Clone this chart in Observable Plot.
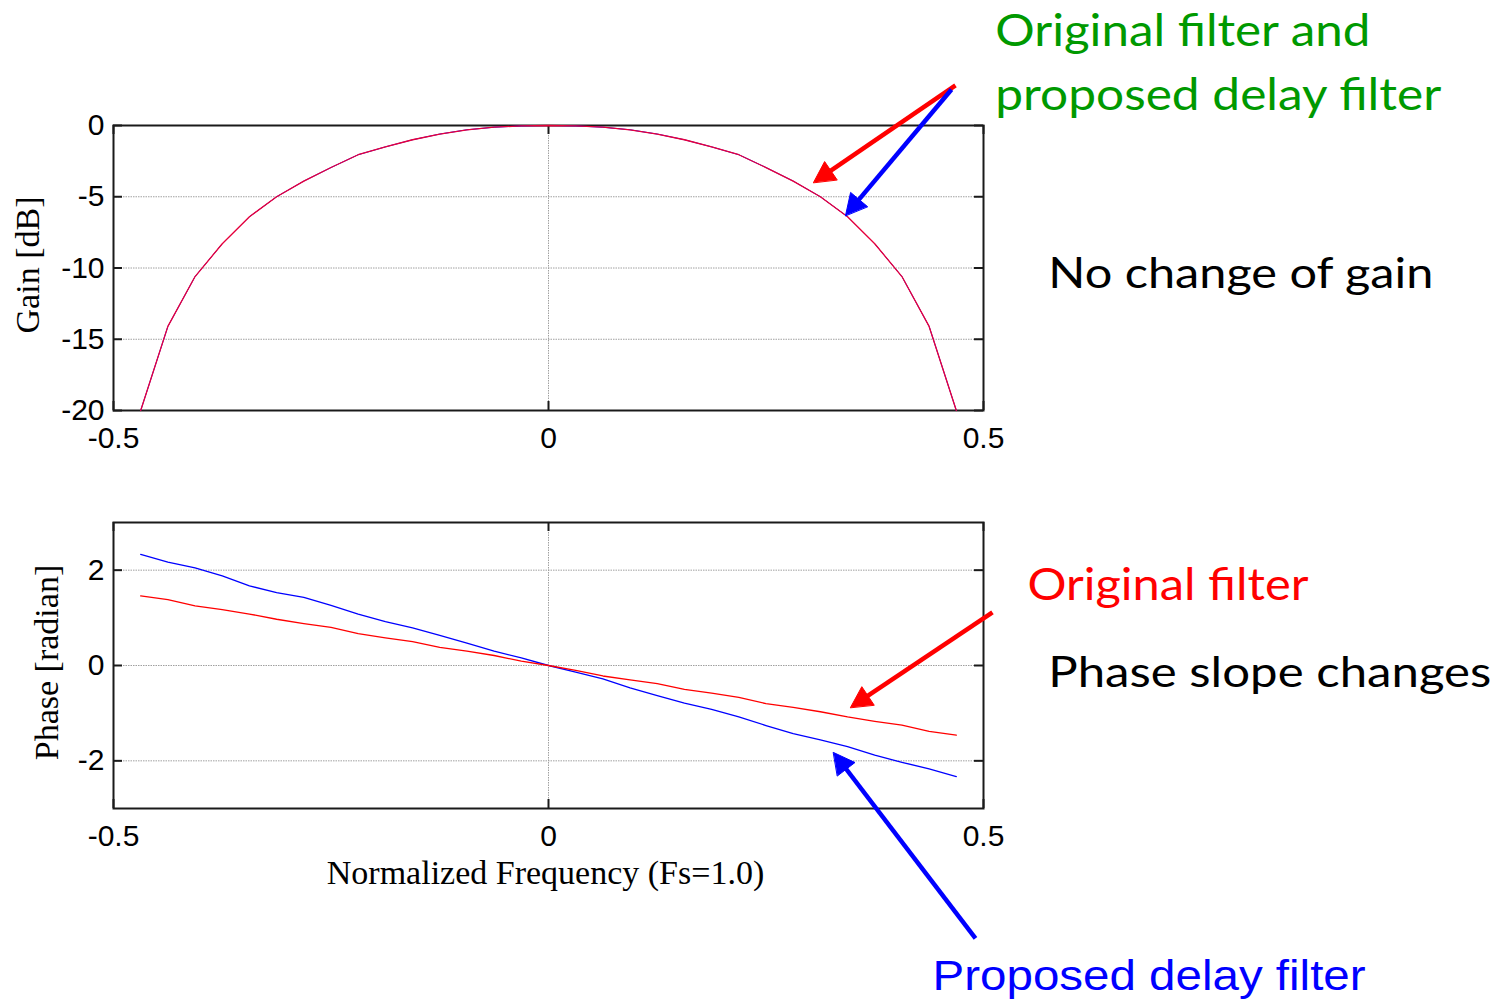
<!DOCTYPE html>
<html><head><meta charset="utf-8">
<script src="https://cdn.jsdelivr.net/npm/d3@7"></script>
<script src="https://cdn.jsdelivr.net/npm/@observablehq/plot@0.6"></script>
<style>
html,body{margin:0;padding:0;background:#fff;}
#wrap{position:relative;width:1509px;height:1004px;overflow:hidden;background:#fff;}
#wrap > svg{position:absolute;left:0;display:block;overflow:visible;}
</style></head><body><div id="wrap"></div>
<script>
// ---------- data ----------
const freq = [-0.46875,-0.4375,-0.40625,-0.375,-0.34375,-0.3125,-0.28125,-0.25,-0.21875,-0.1875,-0.15625,-0.125,-0.09375,-0.0625,-0.03125,0,
  0.03125,0.0625,0.09375,0.125,0.15625,0.1875,0.21875,0.25,0.28125,0.3125,0.34375,0.375,0.40625,0.4375,0.46875];
const gainOriginal = [-20.0,-14.1,-10.6,-8.3,-6.4,-5.0,-3.9,-2.95,-2.05,-1.5,-1.0,-0.6,-0.3,-0.12,-0.03,0,
  -0.03,-0.12,-0.3,-0.6,-1.0,-1.5,-2.05,-2.95,-3.9,-5.0,-6.4,-8.3,-10.6,-14.1,-20.0];
const gainProposed = [-20.0,-14.1,-10.6,-8.3,-6.4,-5.0,-3.9,-2.95,-2.05,-1.5,-1.0,-0.6,-0.3,-0.12,-0.03,0,
  -0.03,-0.12,-0.3,-0.6,-1.0,-1.5,-2.05,-2.95,-3.9,-5.0,-6.4,-8.3,-10.6,-14.1,-20.0];
const phaseOriginal = [1.46,1.38,1.25,1.17,1.08,0.97,0.88,0.80,0.67,0.58,0.50,0.38,0.30,0.21,0.09,0,
  -0.10,-0.22,-0.30,-0.38,-0.50,-0.58,-0.67,-0.80,-0.88,-0.97,-1.08,-1.17,-1.25,-1.38,-1.46];
const phaseProposed = [2.33,2.17,2.05,1.88,1.67,1.53,1.43,1.26,1.08,0.92,0.79,0.63,0.47,0.30,0.16,0,
  -0.14,-0.28,-0.47,-0.63,-0.79,-0.92,-1.08,-1.26,-1.43,-1.56,-1.70,-1.88,-2.03,-2.17,-2.33];
const xTicks = [-0.5, 0, 0.5];
const gainTicks = [-20, -15, -10, -5, 0];
const phaseTicks = [-2, 0, 2];

// annotations (data coordinates of each panel)
const topArrows = [
  {x1: 0.4678, y1: 2.81, x2: 0.3046, y2: -4.0, color: "#ff0000"},
  {x1: 0.4632, y1: 2.53, x2: 0.3414, y2: -6.32, color: "#0000ff"}
];
const bottomArrows = [
  {x1: 0.5103, y1: 1.112, x2: 0.3471, y2: -0.881, color: "#ff0000"},
  {x1: 0.4908, y1: -5.727, x2: 0.3276, y2: -1.825, color: "#0000ff"}
];
const topNotes = [
  {x: 0.5135, y: 5.61, text: "Original filter and", color: "#009900", font: "Lato", size: 45, len: 375},
  {x: 0.5135, y: 1.12, text: "proposed delay filter", color: "#009900", font: "Lato", size: 45, len: 446},
  {x: 0.5745, y: -11.37, text: "No change of gain", color: "#000000", font: "Lato", size: 43, len: 385}
];
const bottomNotes = [
  {x: 0.5505, y: 1.364, text: "Original filter", color: "#ff0000", font: "Lato", size: 45, len: 281},
  {x: 0.5745, y: -0.46, text: "Phase slope changes", color: "#000000", font: "Lato", size: 43, len: 443},
  {x: 0.4415, y: -6.818, text: "Proposed delay filter", color: "#0000ff", font: "Liberation Sans", size: 42, len: 433}
];

// ---------- layout ----------
const W = 1509, mL = 113, mR = 526;
const TOP = {top: 0, height: 470, mt: 125, mb: 60};
const BOT = {top: 470, height: 534, mt: 52, mb: 196};
const tickFmt = d => String(d);
const gridStyle = {stroke: "#a0a0a0", strokeOpacity: 1, strokeDasharray: "1.5,1", strokeWidth: 1};

function arrowMarks(arrows, sx, sy) {
  const marks = [];
  arrows.forEach(a => {
    const px1 = sx(a.x1), py1 = sy(a.y1), px2 = sx(a.x2), py2 = sy(a.y2);
    const dx = px2 - px1, dy = py2 - py1, len = Math.hypot(dx, dy);
    const ux = dx / len, uy = dy / len;
    const L = 21, H = 11;
    const bx = px2 - ux * L, by = py2 - uy * L;
    const head = [[px2, py2], [bx - uy * H, by + ux * H], [bx + uy * H, by - ux * H]]
      .map(([px, py]) => ({x: sx.invert(px), y: sy.invert(py)}));
    const shaft = [{x1: a.x1, y1: a.y1, x2: sx.invert(px2 - ux * L * 0.6), y2: sy.invert(py2 - uy * L * 0.6)}];
    marks.push(Plot.link(shaft, {x1: "x1", y1: "y1", x2: "x2", y2: "y2", stroke: a.color, strokeWidth: 4.5, strokeLinecap: "butt"}));
    marks.push(Plot.line(head, {x: "x", y: "y", fill: a.color, stroke: a.color, strokeWidth: 1, curve: "linear-closed"}));
  });
  return marks;
}

function noteMarks(notes) {
  return notes.map(n => Plot.text([n], {x: "x", y: "y", text: "text", textAnchor: "start", lineAnchor: "bottom",
    fill: n.color, fontFamily: n.font, fontSize: n.size}));
}

function panel(cfg, yDomain, yTicks, series, arrows, notes, yLabel, yLabelDx, xLabel) {
  const innerH = cfg.height - cfg.mt - cfg.mb;
  const sx = d3.scaleLinear([-0.5, 0.5], [mL, W - mR]);
  const sy = d3.scaleLinear(yDomain, [cfg.mt + innerH, cfg.mt]);
  const tkX = sx.invert(mL + 9) - sx.invert(mL);
  const tkY = sy.invert(cfg.mt) - sy.invert(cfg.mt + 9);
  const rows = freq.map((f, i) => ({f, a: series[0][i], b: series[1][i]}));
  const marks = [
    Plot.gridY(yTicks, gridStyle),
    Plot.gridX([0], gridStyle),
    Plot.ruleY(yTicks, {x1: -0.5, x2: -0.5 + tkX, stroke: "#1a1a1a", strokeWidth: 2}),
    Plot.ruleY(yTicks, {x1: 0.5 - tkX, x2: 0.5, stroke: "#1a1a1a", strokeWidth: 2}),
    Plot.ruleX(xTicks, {y1: yDomain[0], y2: yDomain[0] + tkY, stroke: "#1a1a1a", strokeWidth: 2}),
    Plot.ruleX(xTicks, {y1: yDomain[1] - tkY, y2: yDomain[1], stroke: "#1a1a1a", strokeWidth: 2}),
    Plot.frame({stroke: "#1a1a1a", strokeWidth: 2}),
    Plot.line(rows, {x: "f", y: "b", stroke: "#0000ff", strokeWidth: series.overlap ? 1 : 1.3}),
    Plot.line(rows, {x: "f", y: "a", stroke: series.overlap ? "#e8003a" : "#ff0000", strokeWidth: 1.3}),
    Plot.axisX(xTicks, {tickSize: 0, tickPadding: 16, tickFormat: tickFmt, fontSize: 30, label: null}),
    Plot.axisY(yTicks, {tickSize: 0, tickPadding: 9, tickFormat: tickFmt, fontSize: 30, label: null}),
    Plot.text([yLabel], {frameAnchor: "left", textAnchor: "middle", lineAnchor: "middle", rotate: -90, dx: yLabelDx, dy: -3,
      fontFamily: "'Liberation Serif', serif", fontSize: 34, fill: "black"}),
    ...arrowMarks(arrows, sx, sy),
    ...noteMarks(notes)
  ];
  if (xLabel) marks.push(Plot.text([xLabel], {frameAnchor: "bottom", textAnchor: "middle", dx: -3, dy: 65, lineAnchor: "middle",
    fontFamily: "'Liberation Serif', serif", fontSize: 34, fill: "black"}));
  const svg = Plot.plot({
    width: W, height: cfg.height,
    marginLeft: mL, marginRight: mR, marginTop: cfg.mt, marginBottom: cfg.mb,
    x: {domain: [-0.5, 0.5], label: null},
    y: {domain: yDomain, label: null},
    style: {fontFamily: "'Liberation Sans', Arial, sans-serif", fontSize: "30px", color: "black", background: "transparent", overflow: "visible"},
    marks
  });
  svg.style.top = cfg.top + "px";
  // fit annotation widths
  const lens = new Map(notes.map(n => [n.text, n.len]));
  svg.querySelectorAll("text").forEach(t => {
    const L = lens.get(t.textContent);
    if (L) { t.setAttribute("textLength", L); t.setAttribute("lengthAdjust", "spacingAndGlyphs"); }
  });
  return svg;
}

const wrap = document.getElementById("wrap");
const gainSeries = [gainOriginal, gainProposed]; gainSeries.overlap = true;
wrap.appendChild(panel(TOP, [-20, 0], gainTicks, gainSeries, topArrows, topNotes, "Gain [dB]", -85, null));
wrap.appendChild(panel(BOT, [-3, 3], phaseTicks, [phaseOriginal, phaseProposed], bottomArrows, bottomNotes, "Phase [radian]", -66, "Normalized Frequency (Fs=1.0)"));
</script>
</body></html>
